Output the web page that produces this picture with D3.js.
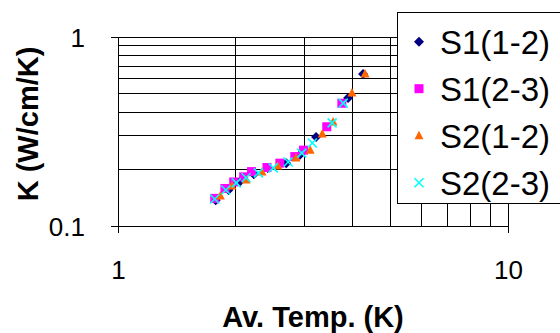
<!DOCTYPE html>
<html>
<head>
<meta charset="utf-8">
<script src="https://cdn.jsdelivr.net/npm/d3@7"></script>
<style>
  body { margin: 0; background: #fff; }
  text { font-family: "Liberation Sans", Arial, sans-serif; }
</style>
</head>
<body>
<div id="chart"></div>
<script>
// series values: [av. temp (K), K (W/cm/K)]
var s1_12 = [[1.78,0.137],[1.92,0.155],[2.06,0.173],[2.23,0.188],[2.42,0.203],[2.70,0.215],[2.93,0.238],[3.22,0.296],[3.89,0.476],[4.25,0.637]];
var s1_23 = [[1.77,0.140],[1.88,0.158],[1.98,0.171],[2.10,0.182],[2.20,0.194],[2.41,0.204],[2.60,0.215],[2.84,0.233],[2.99,0.252],[3.43,0.335],[3.75,0.446]];
var s2_12 = [[1.83,0.144],[1.96,0.163],[2.13,0.175],[2.34,0.193],[2.57,0.208],[2.86,0.229],[3.11,0.252],[3.34,0.307],[3.56,0.355],[3.98,0.505],[4.30,0.637]];
var s2_23 = [[1.77,0.139],[1.89,0.155],[2.01,0.169],[2.13,0.180],[2.29,0.191],[2.50,0.203],[2.73,0.218],[2.96,0.243],[3.15,0.275],[3.54,0.351],[3.78,0.447]];

var seriesNames = ["S1(1-2)", "S1(2-3)", "S2(1-2)", "S2(2-3)"];
var seriesData = [s1_12, s1_23, s2_12, s2_23];
var seriesColors = ["#000080", "#ff00ff", "#ff6600", "#00ffff"];
var seriesShapes = ["diamond", "square", "triangle", "cross"];

var xTicks = [1, 10];
var yTicks = [0.1, 1];
var xGrid = [2, 3, 4, 5, 6, 7, 8, 9, 10];
var yGrid = [0.2, 0.3, 0.4, 0.5, 0.6, 0.7, 0.8, 0.9, 1];

var width = 560,
    height = 333,
    margin = {top: 37, right: 52, bottom: 107, left: 118};

var svg = d3.select("#chart")
  .append("svg")
    .attr("width", width)
    .attr("height", height);

// log scales on both axes
var x = d3.scaleLog()
    .domain([1, 10])
    .range([margin.left, width - margin.right]);
var y = d3.scaleLog()
    .domain([0.1, 1])
    .range([height - margin.bottom, margin.top]);

// gridlines
svg.append("g")
    .attr("stroke", "#000")
    .attr("shape-rendering", "crispEdges")
  .selectAll("line.h")
  .data(yGrid)
  .enter().append("line")
    .attr("x1", x(1)).attr("x2", x(10))
    .attr("y1", function(d) { return y(d); })
    .attr("y2", function(d) { return y(d); });

svg.append("g")
    .attr("stroke", "#000")
    .attr("shape-rendering", "crispEdges")
  .selectAll("line.v")
  .data(xGrid)
  .enter().append("line")
    .attr("y1", y(0.1)).attr("y2", y(1))
    .attr("x1", function(d) { return x(d); })
    .attr("x2", function(d) { return x(d); });

// axes, only the decades get labels
var xAxis = svg.append("g")
    .attr("transform", "translate(0," + y(0.1) + ")")
    .call(d3.axisBottom(x).tickValues(xTicks).tickFormat(d3.format("d")).tickSize(7).tickPadding(28));
var yAxis = svg.append("g")
    .attr("transform", "translate(" + x(1) + ",0)")
    .call(d3.axisLeft(y).tickValues(yTicks).tickFormat(function(d) { return d; }).tickSize(7).tickPadding(26));

[xAxis, yAxis].forEach(function(a) {
  a.select(".domain").attr("stroke", "#000").attr("shape-rendering", "crispEdges");
  a.selectAll(".tick line").attr("stroke", "#000").attr("shape-rendering", "crispEdges");
  a.selectAll(".tick text")
      .attr("fill", "#000")
      .attr("font-size", 26)
      .attr("font-family", "Liberation Sans, Arial, sans-serif");
});
yAxis.selectAll(".tick text").attr("dy", "0.36em");

// marker shapes
function marker(shape) {
  if (shape === "diamond") return "M0,-5L5,0L0,5L-5,0Z";
  if (shape === "square") return "M-4.5,-4.5H4.5V4.5H-4.5Z";
  if (shape === "triangle") return "M0,-5L4.5,3.5H-4.5Z";
  return "M-4.5,-4.5L4.5,4.5M4.5,-4.5L-4.5,4.5";
}

function drawMarker(sel, i) {
  sel.attr("d", marker(seriesShapes[i]));
  if (seriesShapes[i] === "cross") {
    sel.attr("fill", "none").attr("stroke", seriesColors[i]).attr("stroke-width", 1.6);
  } else {
    sel.attr("fill", seriesColors[i]);
  }
}

// points
seriesData.forEach(function(data, i) {
  svg.append("g")
    .selectAll("path")
    .data(data)
    .enter().append("path")
      .attr("transform", function(d) { return "translate(" + x(d[0]) + "," + y(d[1]) + ")"; })
      .call(drawMarker, i);
});

// legend box
var legend = svg.append("g");
legend.append("rect")
    .attr("x", 397.5).attr("y", 12.5)
    .attr("width", 180).attr("height", 191)
    .attr("fill", "#fff")
    .attr("stroke", "#000");

seriesNames.forEach(function(name, i) {
  var ly = 41.7 + i * 47;
  legend.append("path")
      .attr("transform", "translate(419," + ly + ")")
      .call(drawMarker, i);
  legend.append("text")
      .attr("x", 440)
      .attr("y", ly)
      .attr("dy", "0.36em")
      .attr("font-size", 33)
      .text(name);
});

// axis titles
svg.append("text")
    .attr("x", 313)
    .attr("y", 327)
    .attr("text-anchor", "middle")
    .attr("font-size", 29)
    .attr("font-weight", "bold")
    .text("Av. Temp. (K)");

svg.append("text")
    .attr("transform", "translate(38," + 124 + ") rotate(-90)")
    .attr("text-anchor", "middle")
    .attr("font-size", 29)
    .attr("font-weight", "bold")
    .text("K (W/cm/K)");
</script>
</body>
</html>
